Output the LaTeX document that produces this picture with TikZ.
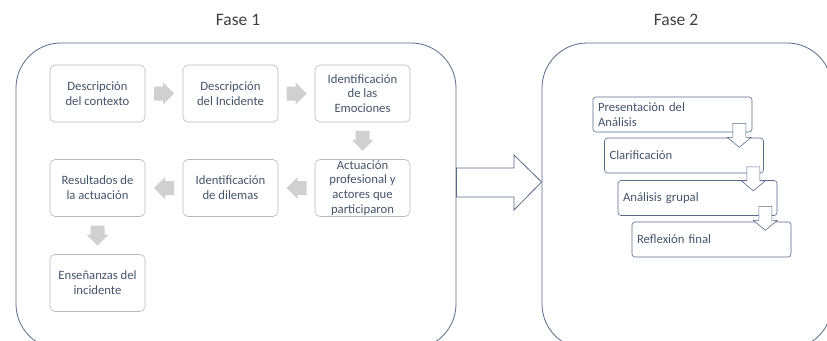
\documentclass[tikz,border=0pt]{standalone}
\usepackage{fontspec}
\setmainfont{Carlito}
\usetikzlibrary{calc}
\definecolor{txt}{HTML}{44546A}
\definecolor{frame}{HTML}{586A8A}
\definecolor{lightb}{HTML}{B8B8B8}
\definecolor{agray}{HTML}{D0D0D0}
\definecolor{ttl}{HTML}{404040}
\begin{document}
\begin{tikzpicture}[x=1pt,y=-1pt,
  stepbox/.style={draw=lightb, rounded corners=5pt, minimum width=95pt, minimum height=57pt,
    align=center, text=txt, font=\fontsize{12.7}{14.8}\selectfont, inner sep=0pt, line width=0.6pt},
  bigbox/.style={draw=frame, rounded corners=45pt, line width=0.8pt},
  phasebox/.style={draw=frame, rounded corners=3pt, minimum height=35pt, text width=149pt,
    inner xsep=5pt, inner ysep=0pt, align=left, text=txt, font=\fontsize{12.7}{14.5}\selectfont, line width=0.6pt},
  title/.style={text=ttl, font=\fontsize{17.5}{20}\selectfont},
  graya/.pic={\fill[agray] (-10,-7) -- (-1,-7) -- (-1,-11) -- (10,0) -- (-1,11) -- (-1,7) -- (-10,7) -- cycle;},
  hollowa/.pic={\draw[frame, fill=white, line width=0.6pt] (-6.5,-12) -- (6.5,-12) -- (6.5,2) -- (12,2) -- (0,12) -- (-12,2) -- (-6.5,2) -- cycle;}
]
\useasboundingbox (0,0) rectangle (827,340);
\begin{scope}
\clip (0,0) rectangle (827,340);
\node[bigbox, minimum width=440pt, minimum height=306pt] (f1) at (236,196) {};
\node[bigbox, minimum width=290pt, minimum height=306pt] (f2) at (687,196) {};

\node[title] (t1) at (238,20) {Fase 1};
\node[title] (t2) at (676,20) {Fase 2};

% Fase 1 steps
\node[stepbox] (a1) at (97.5,93.5) {Descripción\\del contexto};
\node[stepbox] (a2) at (230.5,93.5) {Descripción\\del Incidente};
\node[stepbox] (a3) at (362.5,93.5) {Identificación\\de las\\Emociones};
\node[stepbox] (a4) at (362.5,188) {Actuación\\profesional y\\actores que\\participaron};
\node[stepbox] (a5) at (230.5,188) {Identificación\\de dilemas};
\node[stepbox] (a6) at (97.5,188) {Resultados de\\la actuación};
\node[stepbox] (a7) at (97.5,283) {Enseñanzas del\\incidente};

\pic at ($(a1.east)!0.5!(a2.west)$) {graya};
\pic at ($(a2.east)!0.5!(a3.west)$) {graya};
\pic[rotate=-90] at ($(a3.south)!0.5!(a4.north)$) {graya};
\pic[rotate=180] at ($(a4.west)!0.5!(a5.east)$) {graya};
\pic[rotate=180] at ($(a5.west)!0.5!(a6.east)$) {graya};
\pic[rotate=-90] at ($(a6.south)!0.5!(a7.north)$) {graya};

% big arrow
\draw[frame, fill=white, line width=0.8pt] (f1.east |- 0,168) -- (514,168) -- (514,155)
  -- (f2.west |- 0,182) -- (514,210) -- (514,197) -- (f1.east |- 0,197) -- cycle;

% Fase 2 steps
\node[phasebox] (b1) at (672.5,114.5) {Presentación del\\Análisis};
\node[phasebox] (b2) at (684,155.5) {Clarificación};
\node[phasebox] (b3) at (697.5,198) {Análisis grupal};
\node[phasebox] (b4) at (711.5,239.5) {Reflexión final};

\pic at ($(b1.south east)+(-13,3)$) {hollowa};
\pic at ($(b2.south east)+(-10.5,5.5)$) {hollowa};
\pic at ($(b3.south east)+(-12,2.5)$) {hollowa};
\end{scope}
\end{tikzpicture}
\end{document}
